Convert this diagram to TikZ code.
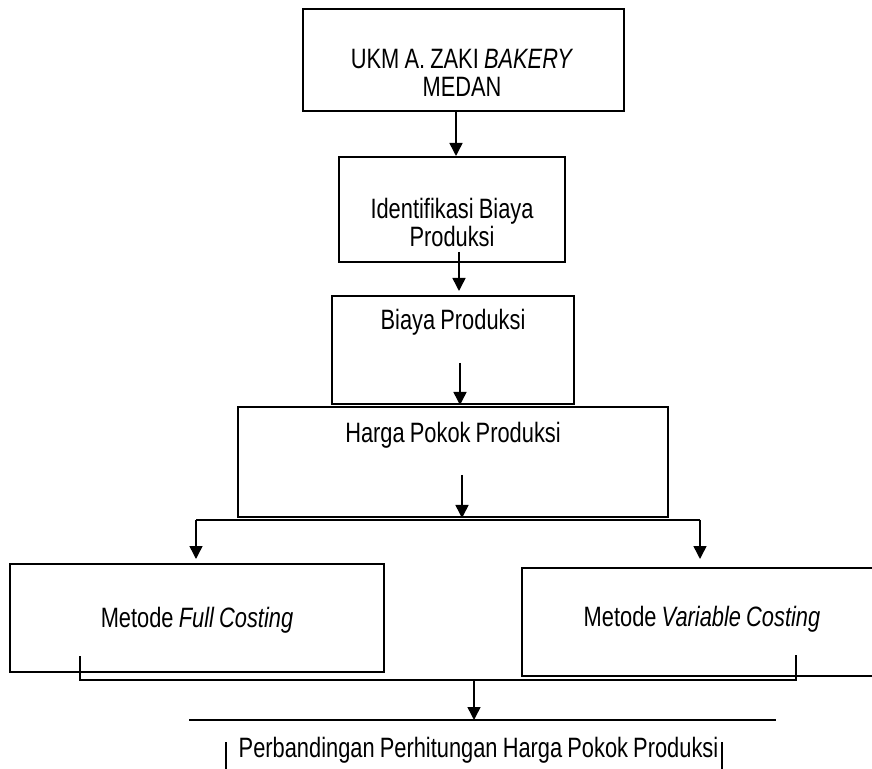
\documentclass[tikz,border=0pt]{standalone}
\usepackage{fontspec}
\setmainfont[FakeStretch=0.78, WordSpace=0.85]{Liberation Sans}
\usetikzlibrary{arrows.meta}

\begin{document}
\begin{tikzpicture}[x=0.5pt, y=-0.5pt,
    box/.style = {draw=black, line width=1pt, inner sep=0pt},
    txt/.style = {inner sep=0pt, font=\fontsize{14}{14}\selectfont\frenchspacing},
    arr/.style = {-{Triangle[width=6.5pt, length=6.5pt]}, line width=0.75pt},
    wire/.style = {line width=1pt}]
    \useasboundingbox (0,0) rectangle (872,769);
    \clip (0,0) rectangle (872,769);

    % boxes
    \node[box, minimum width=160.5pt, minimum height=51pt] (ukm) at (463.5,60) {};
    \node[box, minimum width=113pt, minimum height=52.5pt] (ident) at (452,209.5) {};
    \node[box, minimum width=121pt, minimum height=54pt] (biaya) at (453,350) {};
    \node[box, minimum width=215pt, minimum height=55pt] (hpp) at (453,462) {};
    \node[box, minimum width=187pt, minimum height=54pt] (full) at (197,618) {};
    \node[box, minimum width=180pt, minimum height=54pt] (var) at (702,622) {};

    % texts (base = last line)
    \node[txt, anchor=base, align=center] (ukmtxt) at (462,97) {UKM A. ZAKI \textit{BAKERY}\\MEDAN};
    \node[txt, anchor=base, align=center] (identtxt) at (452,247) {Identifikasi Biaya\\Produksi};
    \node[txt, anchor=base] (biayatxt) at (453,330) {Biaya Produksi};
    \node[txt, anchor=base] (hpptxt) at (453,443) {Harga Pokok Produksi};
    \node[txt, anchor=base] (fulltxt) at (197,627) {Metode \textit{Full Costing}};
    \node[txt, anchor=base] (vartxt) at (702,626) {Metode \textit{Variable Costing}};
    \node[txt, anchor=base] (band) at (478.5,757) {Perbandingan Perhitungan Harga Pokok Produksi};

    % frame round the last text
    \coordinate (bandL) at (189,720);
    \coordinate (bandR) at (776,720);
    \draw[wire] (bandL) -- (bandR);
    \draw[wire] (226,742) -- (226,769);
    \draw[wire] (722,742) -- (722,769);

    % arrows down the chain
    \coordinate (a1) at (456,111);
    \coordinate (a2) at (459,252);
    \coordinate (a3) at (460,363);
    \coordinate (a4) at (462,475);
    \draw[arr] (a1) -- (a1 |- ident.north);
    \draw[arr, shorten >=2pt] (a2) -- (a2 |- biaya.north);
    \draw[arr] (a3) -- (a3 |- biaya.south);
    \draw[arr] (a4) -- (a4 |- hpp.south);

    % split into the two methods
    \coordinate (brL) at (196,520);
    \coordinate (brR) at (700,520);
    \draw[wire] (brL) -- (brR);
    \draw[arr, shorten >=2pt] (brL) -- (brL |- full.north);
    \draw[arr, shorten >=4pt] (brR) -- (brR |- var.north);

    % join into the comparison
    \coordinate (mgL) at (80,656);
    \coordinate (mgR) at (796,655);
    \coordinate (mg) at (474,680);
    \draw[wire] (mgL) |- (mg) -| (mgR);
    \draw[arr] (mg) -- (mg |- bandL);
\end{tikzpicture}
\end{document}
